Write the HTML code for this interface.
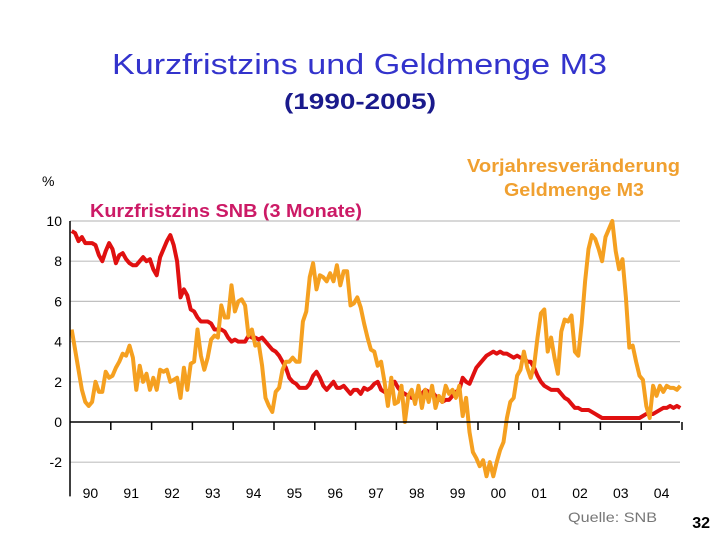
<!DOCTYPE html>
<html><head><meta charset="utf-8"><style>
body{margin:0;width:720px;height:540px;background:#fff;overflow:hidden;font-family:"Liberation Sans",sans-serif}
svg{position:absolute;left:0;top:0}
</style></head><body>
<svg id="c" width="720" height="540">
<text x="112" y="74" font-size="29" fill="#3333cc" textLength="495" lengthAdjust="spacingAndGlyphs">Kurzfristzins und Geldmenge M3</text>
<text x="284" y="109" font-size="22" font-weight="bold" fill="#1a1a8c" textLength="152" lengthAdjust="spacingAndGlyphs">(1990-2005)</text>
<text x="42" y="186" font-size="14" fill="#000">%</text>
<text x="90" y="217" font-size="18" font-weight="bold" fill="#cc1a66" textLength="272" lengthAdjust="spacingAndGlyphs">Kurzfristzins SNB (3 Monate)</text>
<text x="467" y="172" font-size="18" font-weight="bold" fill="#f0a030" textLength="213" lengthAdjust="spacingAndGlyphs">Vorjahresveränderung</text>
<text x="504" y="196" font-size="18" font-weight="bold" fill="#f0a030" textLength="140" lengthAdjust="spacingAndGlyphs">Geldmenge M3</text>
<text x="568" y="522" font-size="14" fill="#777" textLength="89" lengthAdjust="spacingAndGlyphs">Quelle: SNB</text>
<text x="710" y="528" text-anchor="end" font-size="16" font-weight="bold" fill="#000">32</text>
<g id="grid"></g><g id="series"></g><g id="axes"></g>
</svg>
<script>
const yTicks=[10,8,6,4,2,0,-2];
const yearLabels=["90","91","92","93","94","95","96","97","98","99","00","01","02","03","04"];
const snbRate=[
9.5,9.4,9.0,9.2,8.9,8.9,8.9,8.8,8.3,8.0,8.5,8.9,
8.6,7.9,8.3,8.4,8.1,7.9,7.8,7.8,8.0,8.2,8.0,8.1,
7.6,7.3,8.2,8.6,9.0,9.3,8.8,8.0,6.2,6.6,6.3,5.6,
5.5,5.2,5.0,5.0,5.0,4.9,4.6,4.6,4.6,4.5,4.2,4.0,
4.1,4.0,4.0,4.0,4.3,4.2,4.2,4.1,4.2,4.0,3.8,3.6,
3.5,3.3,3.0,2.7,2.2,2.0,1.9,1.7,1.7,1.7,1.9,2.3,
2.5,2.2,1.8,1.6,1.8,2.0,1.7,1.7,1.8,1.6,1.4,1.6,
1.6,1.4,1.7,1.6,1.7,1.9,2.0,1.6,1.5,1.4,1.8,2.0,
1.7,1.5,1.4,1.3,1.2,1.2,1.4,1.4,1.6,1.5,1.5,1.3,
1.2,1.0,1.1,1.1,1.3,1.5,1.6,2.2,2.0,1.9,2.3,2.7,
2.9,3.1,3.3,3.4,3.5,3.4,3.5,3.4,3.4,3.3,3.2,3.3,
3.2,3.2,3.0,3.0,2.7,2.3,2.0,1.8,1.7,1.6,1.6,1.6,
1.4,1.2,1.1,0.9,0.7,0.7,0.6,0.6,0.6,0.5,0.4,0.3,
0.2,0.2,0.2,0.2,0.2,0.2,0.2,0.2,0.2,0.2,0.2,0.2,
0.3,0.4,0.4,0.4,0.5,0.6,0.7,0.7,0.8,0.7,0.8,0.7];
const m3Growth=[
4.6,3.6,2.6,1.6,1.0,0.8,1.0,2.0,1.5,1.5,2.5,2.2,
2.3,2.7,3.0,3.4,3.3,3.8,3.2,1.6,2.8,2.0,2.4,1.6,
2.2,1.6,2.6,2.5,2.6,2.0,2.1,2.2,1.2,2.7,1.6,2.9,
3.0,4.6,3.3,2.6,3.2,4.1,4.3,4.2,5.8,5.2,5.2,6.8,
5.5,6.0,6.1,5.8,4.3,4.6,3.8,3.9,2.8,1.2,0.8,0.5,
1.5,1.7,2.6,3.0,3.0,3.2,3.0,3.0,5.0,5.5,7.2,7.9,
6.6,7.3,7.2,7.0,7.4,7.0,7.8,6.8,7.5,7.5,5.8,5.9,
6.2,5.7,4.9,4.2,3.6,3.5,2.8,3.0,2.0,0.8,2.2,0.9,
1.0,1.8,0.0,1.3,1.6,0.9,1.8,0.7,1.6,1.0,1.8,0.7,
1.3,1.0,1.8,1.4,1.6,1.2,1.8,0.3,1.2,-0.5,-1.5,-1.8,
-2.2,-1.9,-2.7,-2.0,-2.7,-2.0,-1.4,-1.0,0.2,1.0,1.2,2.3,
2.6,3.5,2.7,2.2,2.8,4.2,5.4,5.6,3.5,4.2,3.2,2.4,
4.5,5.1,5.0,5.3,3.5,3.3,4.9,7.0,8.6,9.3,9.1,8.6,
8.0,9.2,9.6,10.0,8.5,7.6,8.1,6.2,3.7,3.8,3.0,2.3,
2.1,0.8,0.2,1.8,1.3,1.8,1.5,1.8,1.7,1.7,1.6,1.8];
const NS="http://www.w3.org/2000/svg";
const X0=70,YW=40.8,Y0=422,UP=20.1;
const xs=i=>X0+(i+0.5)/12*YW;
const ys=v=>Y0-v*UP;
function mk(t,a,p){const e=document.createElementNS(NS,t);for(const k in a)e.setAttribute(k,a[k]);p.appendChild(e);return e;}
const grid=document.getElementById('grid'),axes=document.getElementById('axes'),ser=document.getElementById('series');
yTicks.forEach(v=>{
 if(v!==0){const g=mk('line',{x1:X0,x2:680,y1:ys(v),y2:ys(v),stroke:'#c0c0c0','stroke-width':1.2},grid);
 
 }
 const t=mk('text',{x:X0-8,y:ys(v)+5,'text-anchor':'end','font-size':14},axes);t.textContent=String(v);
 
 
});
const ya=mk('line',{x1:X0,x2:X0,y1:ys(10),y2:ys(-3.7),stroke:'#000','stroke-width':1.5},axes);


const xa=mk('line',{x1:X0,x2:680,y1:Y0,y2:Y0,stroke:'#000','stroke-width':1.5},axes);


yearLabels.forEach((l,i)=>{
 const tk=mk('line',{x1:X0+(i+1)*YW,x2:X0+(i+1)*YW,y1:Y0,y2:Y0+8,stroke:'#000','stroke-width':1.5},axes);
 
 
 const t=mk('text',{x:X0+(i+0.5)*YW,y:498,'text-anchor':'middle','font-size':14},axes);t.textContent=l;
 
 
});
function line(data,col,name){
 const p=mk('polyline',{points:data.map((v,i)=>xs(i)+','+ys(v)).join(' '),fill:'none',stroke:col,'stroke-width':4,'stroke-linejoin':'round'},ser);
 
 
}
line(snbRate,'#e01010','series-snb-rate');
line(m3Growth,'#f5a020','series-m3-growth');
</script>
</body></html>
